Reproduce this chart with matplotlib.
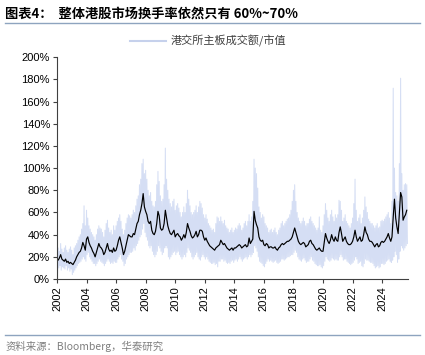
# -*- coding: utf-8 -*-
import numpy as np
import matplotlib
matplotlib.use('Agg')
import matplotlib.pyplot as plt
from matplotlib.lines import Line2D

plt.rcParams['font.family'] = ['Liberation Sans', 'Noto Sans CJK SC', 'DejaVu Sans']

start_year = 2002

# 月度均值 (%), 黑线
turnover_avg = [
    18, 17, 19, 22, 18, 17, 16, 18, 15, 16, 14, 15,   # 2002
    14, 13, 15, 17, 20, 22, 24, 25, 28, 33, 30, 26,   # 2003
    36, 38, 33, 30, 28, 25, 23, 20, 24, 28, 32, 29,   # 2004
    28, 26, 22, 24, 28, 32, 27, 25, 26, 24, 28, 25,   # 2005
    26, 30, 35, 38, 33, 28, 22, 25, 30, 35, 40, 39,   # 2006
    38, 38, 41, 40, 45, 50, 52, 58, 62, 68, 77, 65,   # 2007
    61, 58, 52, 50, 52, 44, 41, 40, 43, 50, 61, 57,   # 2008
    46, 44, 45, 50, 62, 55, 48, 44, 41, 40, 42, 44,   # 2009
    38, 40, 41, 39, 38, 35, 37, 40, 37, 42, 50, 46,   # 2010
    43, 39, 37, 38, 40, 43, 38, 40, 44, 44, 43, 38,   # 2011
    35, 37, 34, 32, 30, 29, 28, 27, 26, 28, 29, 30,   # 2012
    31, 35, 33, 31, 32, 30, 28, 27, 26, 27, 28, 26,   # 2013
    28, 28, 29, 30, 31, 30, 28, 29, 30, 31, 29, 30,   # 2014
    37, 32, 34, 36, 61, 53, 49, 46, 38, 35, 34, 35,   # 2015
    31, 30, 32, 31, 28, 29, 29, 28, 28, 29, 27, 26,   # 2016
    28, 29, 31, 32, 31, 32, 33, 34, 34, 35, 36, 38,   # 2017
    42, 46, 42, 38, 34, 32, 31, 32, 33, 32, 29, 30,   # 2018
    31, 34, 35, 32, 31, 29, 27, 26, 27, 28, 26, 25,   # 2019
    25, 33, 41, 37, 34, 32, 35, 40, 36, 34, 38, 35,   # 2020
    34, 42, 47, 41, 34, 36, 38, 34, 32, 31, 31, 32,   # 2021
    34, 38, 44, 38, 34, 36, 38, 34, 35, 40, 47, 42,   # 2022
    40, 36, 34, 34, 33, 31, 29, 31, 32, 29, 30, 33,   # 2023
    34, 33, 34, 36, 38, 41, 37, 34, 38, 56, 72, 55,   # 2024
    47, 41, 60, 78, 74, 53, 56, 58, 62,               # 2025
]

# 日度数据每月最高/最低 (%), 浅蓝
turnover_high = [
    30, 28, 25, 32, 27, 24, 28, 30, 26, 24, 27, 29,
    26, 22, 28, 30, 32, 35, 38, 40, 45, 50, 66, 48,
    62, 55, 48, 45, 42, 40, 38, 35, 40, 45, 48, 46,
    45, 42, 38, 44, 50, 53, 46, 42, 44, 40, 48, 44,
    48, 52, 55, 58, 52, 45, 40, 44, 50, 55, 58, 57,
    55, 58, 62, 60, 66, 72, 75, 85, 90, 104, 108, 95,
    98, 90, 80, 75, 78, 70, 66, 65, 70, 85, 97, 88,
    75, 70, 72, 85, 118, 90, 80, 72, 68, 65, 70, 72,
    62, 66, 68, 64, 60, 56, 60, 65, 60, 68, 80, 72,
    66, 60, 58, 60, 62, 66, 60, 65, 70, 68, 64, 58,
    55, 58, 54, 50, 48, 46, 44, 45, 42, 50, 56, 55,
    52, 56, 52, 50, 53, 48, 46, 45, 42, 44, 46, 42,
    44, 46, 45, 48, 50, 48, 44, 46, 50, 52, 48, 52,
    58, 52, 56, 70, 108, 100, 95, 82, 65, 60, 55, 58,
    56, 50, 48, 46, 42, 44, 45, 42, 44, 46, 42, 40,
    44, 46, 50, 52, 48, 50, 52, 54, 55, 58, 62, 70,
    80, 85, 70, 60, 55, 52, 50, 52, 55, 52, 48, 50,
    50, 54, 56, 52, 50, 48, 46, 44, 46, 56, 44, 42,
    48, 58, 68, 62, 55, 52, 58, 62, 56, 52, 58, 55,
    58, 71, 70, 62, 52, 55, 58, 52, 50, 48, 46, 50,
    55, 68, 90, 62, 52, 55, 58, 50, 55, 62, 74, 65,
    60, 54, 52, 50, 50, 48, 46, 48, 50, 46, 47, 52,
    53, 52, 54, 56, 58, 60, 55, 50, 70, 172, 100, 78,
    75, 70, 104, 181, 95, 80, 85, 86, 85,
]
turnover_low = [
    5, 10, 12, 8, 11, 10, 9, 12, 8, 10, 7, 9,
    4, 6, 8, 10, 12, 14, 15, 16, 18, 20, 18, 16,
    22, 24, 20, 18, 16, 14, 14, 12, 14, 16, 18, 16,
    15, 14, 12, 14, 16, 18, 16, 14, 15, 14, 16, 15,
    15, 18, 20, 22, 18, 16, 12, 14, 18, 20, 22, 24,
    24, 25, 28, 26, 30, 32, 35, 38, 40, 45, 50, 42,
    38, 35, 30, 28, 30, 25, 22, 20, 22, 25, 30, 28,
    25, 22, 24, 28, 30, 28, 20, 18, 20, 22, 24, 25,
    22, 24, 25, 22, 20, 18, 20, 22, 20, 24, 28, 26,
    24, 20, 18, 20, 22, 24, 20, 18, 17, 20, 22, 20,
    18, 20, 18, 16, 15, 14, 14, 15, 13, 14, 11, 16,
    16, 18, 18, 16, 17, 15, 14, 15, 14, 16, 17, 15,
    17, 18, 16, 18, 20, 18, 16, 18, 19, 20, 18, 20,
    22, 20, 22, 24, 30, 28, 25, 20, 16, 15, 14, 12,
    11, 14, 16, 18, 16, 17, 16, 15, 16, 17, 15, 14,
    15, 16, 18, 18, 17, 18, 19, 20, 20, 21, 22, 22,
    24, 26, 24, 20, 18, 17, 16, 18, 19, 17, 15, 16,
    16, 18, 20, 17, 16, 14, 13, 12, 12, 13, 11, 10,
    12, 16, 20, 18, 17, 16, 17, 19, 18, 17, 18, 17,
    17, 20, 22, 20, 17, 18, 18, 16, 15, 14, 13, 14,
    15, 17, 20, 18, 14, 15, 16, 12, 11, 14, 18, 17,
    17, 16, 15, 15, 14, 12, 10, 11, 12, 10, 11, 14,
    14, 13, 14, 16, 17, 18, 16, 15, 17, 20, 25, 22,
    15, 18, 25, 30, 28, 26, 28, 30, 32,
]

x_ticks = list(range(2002, 2025, 2))
y_ticks = list(range(0, 201, 20))

blue = '#d5def4'
rule = '#8ea4bf'

months = np.arange(len(turnover_avg))
x_avg = start_year + months / 12.0

# 高低交替画成锯齿, 模拟日度数据
x_band = np.empty(2 * len(turnover_high))
y_band = np.empty(2 * len(turnover_high))
x_band[0::2] = start_year + months / 12.0
x_band[1::2] = start_year + months / 12.0 + 1 / 24.0
y_band[0::2] = turnover_high
y_band[1::2] = turnover_low

fig = plt.figure(figsize=(4.25, 3.55), dpi=100)
ax = fig.add_axes([0.134, 0.214, 0.826, 0.625])

ax.plot(x_band, y_band, color=blue, lw=0.75)
ax.plot(x_avg, turnover_avg, color='black', lw=0.85)

ax.set_xlim(2002, 2025.75)
ax.set_ylim(0, 200)
ax.set_xticks(x_ticks)
ax.set_xticklabels([str(t) for t in x_ticks], rotation=90)
ax.set_yticks(y_ticks)
ax.set_yticklabels(['%d%%' % t for t in y_ticks])
ax.tick_params(labelsize=8, length=3, width=0.8, color='#404040', pad=2)
for s in ['top', 'right']:
    ax.spines[s].set_visible(False)
for s in ['left', 'bottom']:
    ax.spines[s].set_color('#404040')
    ax.spines[s].set_linewidth(0.8)

leg_handle = Line2D([], [], color='#c6d1ec', lw=1.5)
fig.legend([leg_handle], ['港交所主板成交额/市值'], loc='center',
           bbox_to_anchor=(0.49, 1 - 41 / 355), frameon=False,
           handlelength=3.2, handletextpad=0.4,
           prop={'family': ['Noto Sans CJK SC'], 'size': 8}, labelcolor='#404040')

fig.text(0.012, 1 - 14 / 355, '图表4：  整体港股市场换手率依然只有 60%~70%',
         fontsize=9.5, fontweight='bold', va='center', ha='left',
         family=['Noto Sans CJK SC'])
fig.add_artist(Line2D([0.012, 0.988], [1 - 23 / 355] * 2, color=rule, lw=1.0))
fig.add_artist(Line2D([0.012, 0.988], [1 - 335 / 355] * 2, color=rule, lw=1.0))
fig.text(0.012, 1 - 346 / 355, '资料来源：Bloomberg，华泰研究', fontsize=7.5,
         color='#7f7f7f', va='center', ha='left',
         family=['Noto Sans CJK SC', 'Liberation Sans'])

fig.savefig('out.png', dpi=100)
